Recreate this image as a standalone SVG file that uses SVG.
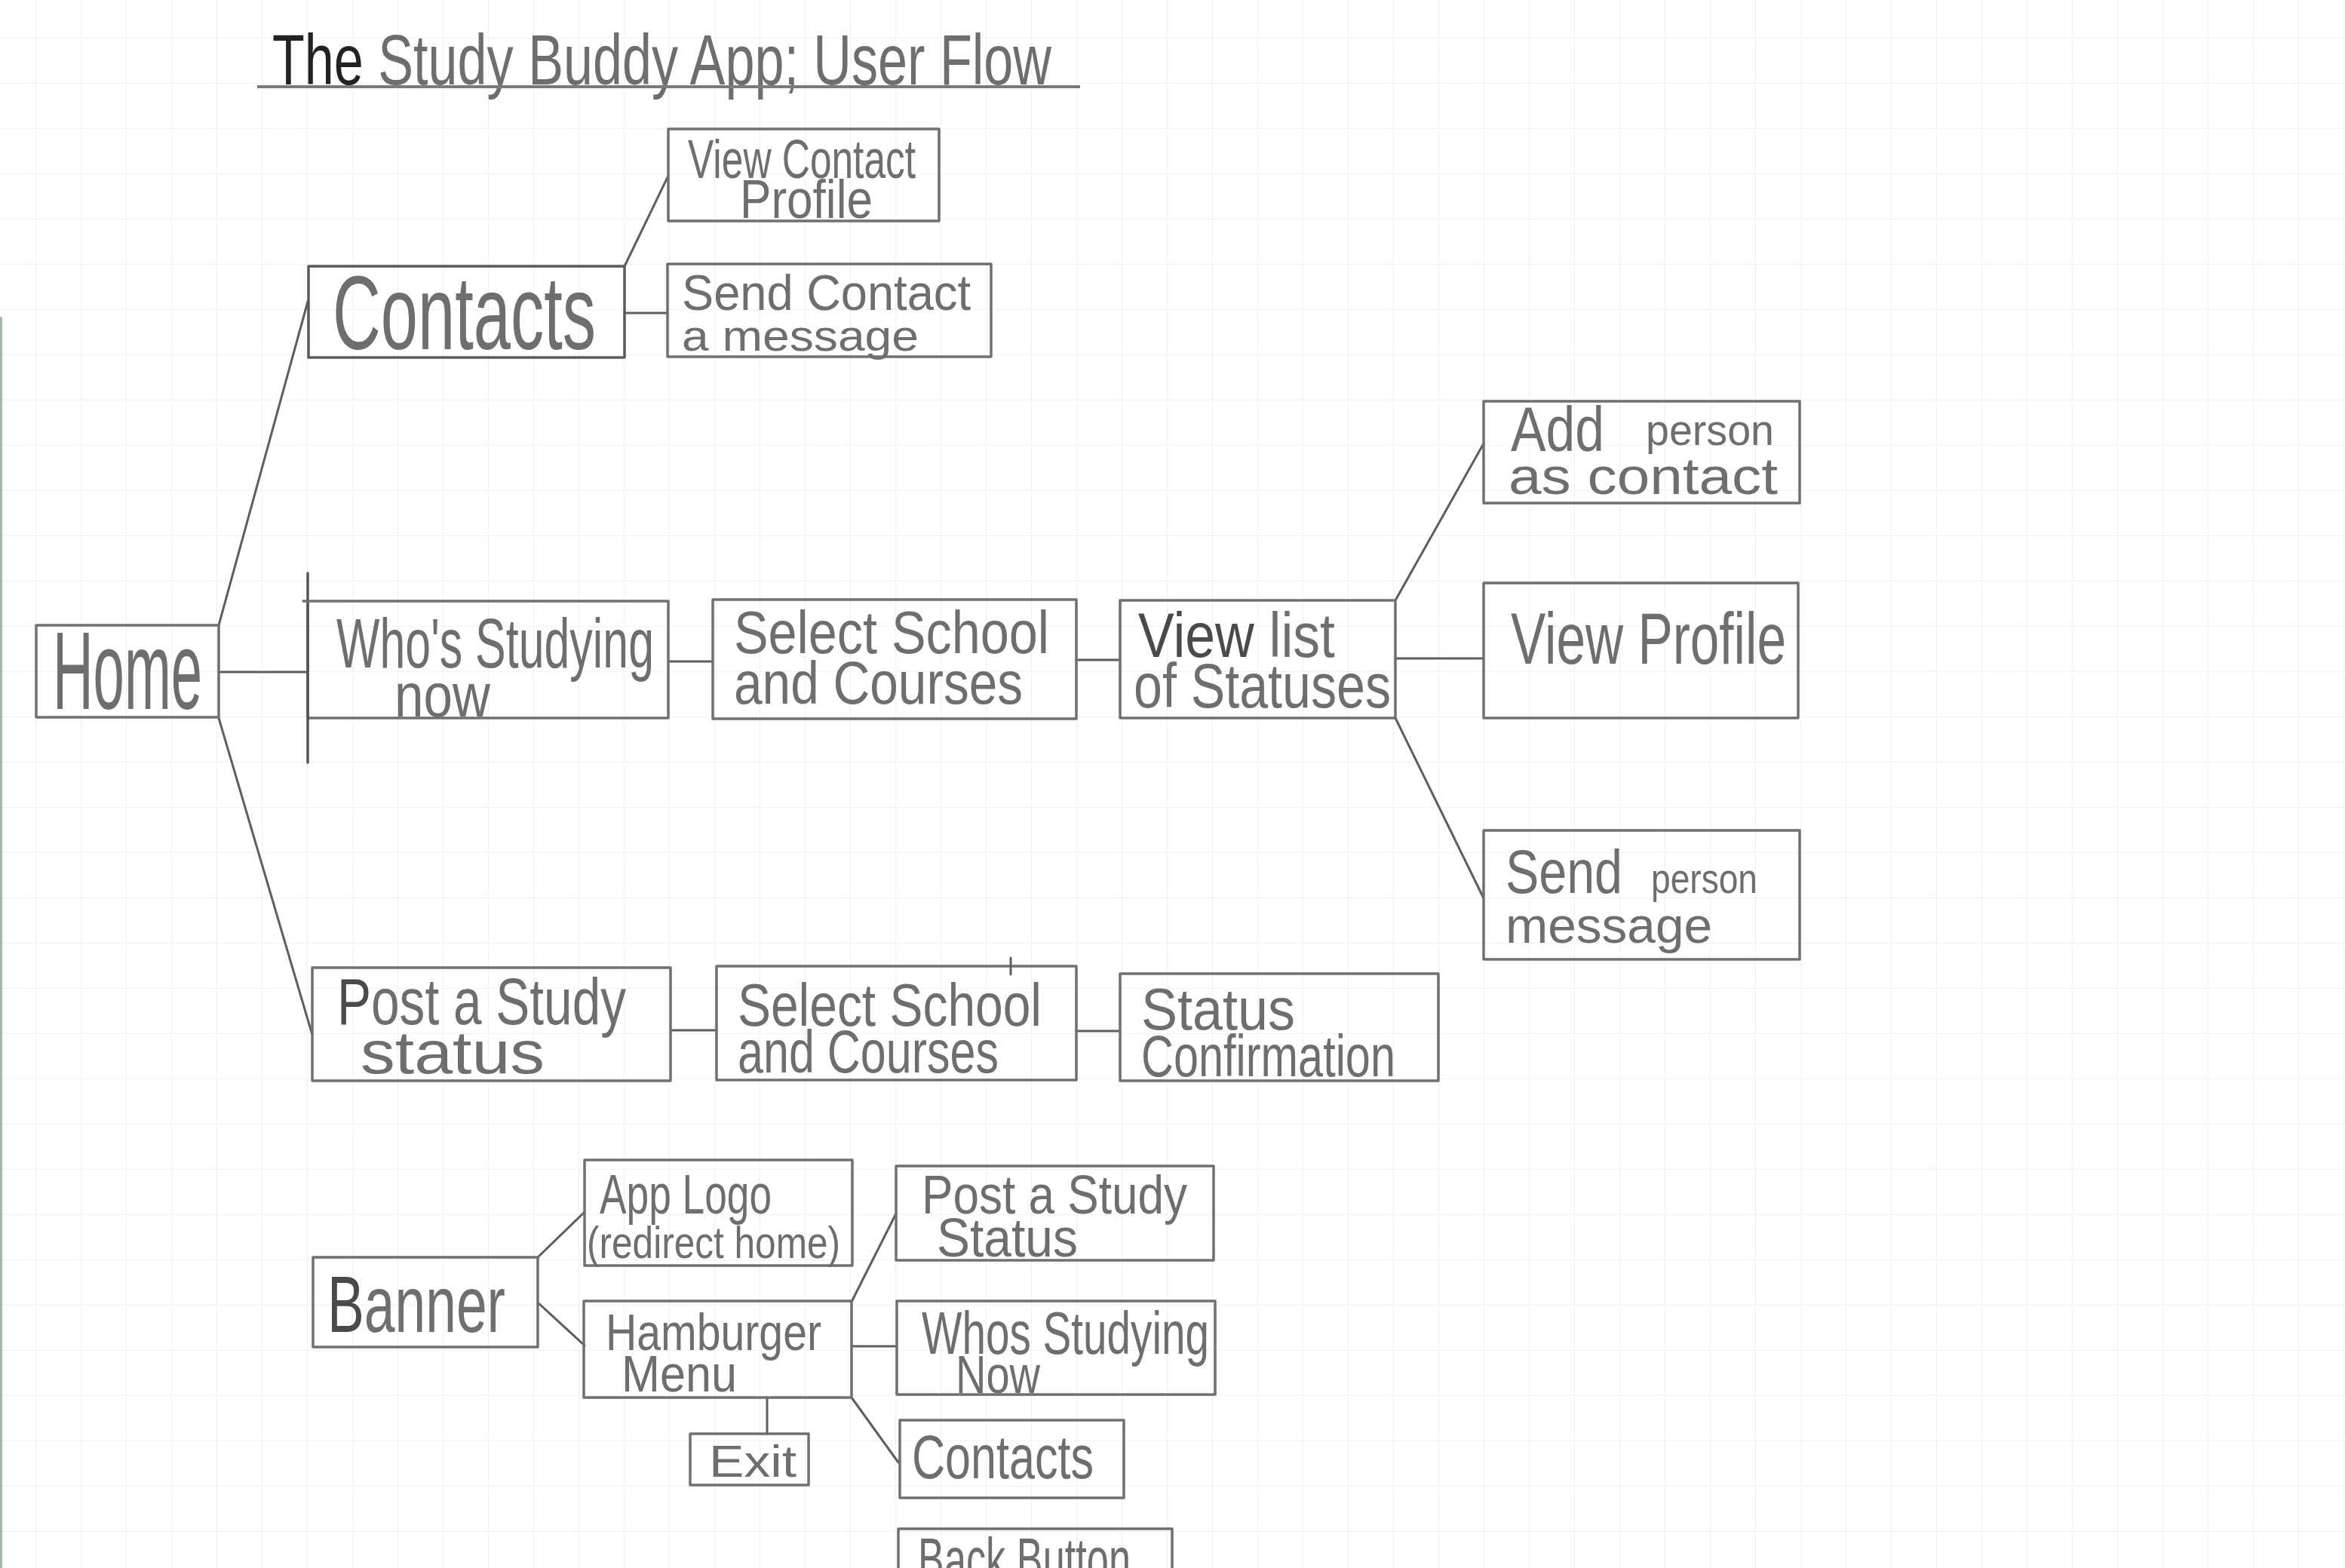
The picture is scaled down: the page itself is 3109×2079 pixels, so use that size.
<svg xmlns="http://www.w3.org/2000/svg" width="3109" height="2079" viewBox="0 0 3109 2079">
<defs>
<pattern id="grid" x="47" y="50" width="60" height="60" patternUnits="userSpaceOnUse">
<path d="M0 0 V60 M0 0 H60" fill="none" stroke="#f1f1f1" stroke-width="2"/>
</pattern>
<style>
.box{fill:none;stroke:#707070;stroke-width:3.5;stroke-linecap:round;stroke-linejoin:round}
.con{fill:none;stroke:#5e5e5e;stroke-width:3;stroke-linecap:round}
.t{font-family:"Liberation Sans Narrow","Liberation Sans",Arial,sans-serif;fill:#6e6e6e;font-weight:normal}
.dk{fill:#4a4a4a}
</style>
</defs>
<rect x="0" y="0" width="3109" height="2079" fill="#ffffff"/>
<rect x="0" y="0" width="3109" height="2079" fill="url(#grid)"/>
<line x1="1.5" y1="420" x2="1.5" y2="2079" stroke="#5d8f6c" stroke-width="3" opacity="0.6"/>

<g id="title">
<text class="t" x="361" y="112" font-size="95" textLength="1033" lengthAdjust="spacingAndGlyphs" fill="#555"><tspan fill="#222">The</tspan> Study Buddy App; User Flow</text>
<line x1="341" y1="115" x2="1432" y2="115" stroke="#7a7a7a" stroke-width="4"/>
</g>

<g id="connectors">
<line class="con" x1="290" y1="829" x2="408" y2="400"/>
<line class="con" x1="290" y1="891" x2="408" y2="891"/>
<line class="con" x1="290" y1="952" x2="414" y2="1372"/>
<line class="con" x1="828" y1="353" x2="886" y2="233"/>
<line class="con" x1="828" y1="415" x2="885" y2="415"/>
<line class="con" x1="886" y1="877" x2="945" y2="877"/>
<line class="con" x1="1427" y1="875" x2="1485" y2="875"/>
<line class="con" x1="1850" y1="796" x2="1967" y2="588"/>
<line class="con" x1="1850" y1="873" x2="1967" y2="873"/>
<line class="con" x1="1850" y1="952" x2="1967" y2="1191"/>
<line class="con" x1="889" y1="1366" x2="950" y2="1366"/>
<line class="con" x1="1427" y1="1367" x2="1485" y2="1367"/>
<line class="con" x1="713" y1="1667" x2="775" y2="1607"/>
<line class="con" x1="713" y1="1727" x2="775" y2="1784"/>
<line class="con" x1="1129" y1="1726" x2="1188" y2="1609"/>
<line class="con" x1="1129" y1="1785" x2="1189" y2="1785"/>
<line class="con" x1="1129" y1="1853" x2="1191" y2="1939"/>
<line class="con" x1="1017" y1="1853" x2="1017" y2="1901"/>
</g>

<g id="home">
<rect class="box" x="48" y="829" width="242" height="122"/>
<text class="t" x="70" y="940" font-size="146" textLength="198" lengthAdjust="spacingAndGlyphs">Home</text>
</g>

<g id="contacts">
<rect class="box" x="409" y="353" width="419" height="121" style="stroke:#5a5a5a"/>
<text class="t" x="441" y="463" font-size="140" textLength="349" lengthAdjust="spacingAndGlyphs">Contacts</text>
</g>

<g id="view-contact-profile">
<rect class="box" x="886" y="171" width="359" height="122"/>
<text class="t" x="912" y="236" font-size="72" textLength="302" lengthAdjust="spacingAndGlyphs" fill="#555">View Contact</text>
<text class="t" x="981" y="289" font-size="72" textLength="176" lengthAdjust="spacingAndGlyphs">Profile</text>
</g>

<g id="send-contact-message">
<rect class="box" x="885" y="350" width="429" height="123"/>
<text class="t" x="904" y="411" font-size="66" textLength="383" lengthAdjust="spacingAndGlyphs" fill="#555">Send Contact</text>
<text class="t" x="904" y="465" font-size="58" textLength="314" lengthAdjust="spacingAndGlyphs">a message</text>
</g>

<g id="whos-studying-now">
<rect class="box" x="408" y="797" width="478" height="155"/>
<line class="box" x1="408" y1="760" x2="408" y2="1011" style="stroke:#555"/>
<line class="box" x1="402" y1="797" x2="408" y2="797"/>
<text class="t" x="446" y="885" font-size="92" textLength="421" lengthAdjust="spacingAndGlyphs" fill="#555">Who's Studying</text>
<text class="t" x="523" y="950" font-size="82" textLength="127" lengthAdjust="spacingAndGlyphs">now</text>
</g>

<g id="select-school-1">
<rect class="box" x="945" y="795" width="482" height="158"/>
<text class="t" x="973" y="866" font-size="80" textLength="418" lengthAdjust="spacingAndGlyphs">Select School</text>
<text class="t" x="973" y="933" font-size="80" textLength="383" lengthAdjust="spacingAndGlyphs">and Courses</text>
</g>

<g id="view-list-statuses">
<rect class="box" x="1485" y="796" width="365" height="156"/>
<text class="t" x="1509" y="871" font-size="84" textLength="261" lengthAdjust="spacingAndGlyphs"><tspan class="dk">View</tspan> list</text>
<text class="t" x="1503" y="938" font-size="84" textLength="341" lengthAdjust="spacingAndGlyphs">of Statuses</text>
</g>

<g id="add-person-contact">
<rect class="box" x="1967" y="532" width="419" height="135"/>
<text class="t" x="2003" y="598" font-size="84" textLength="124" lengthAdjust="spacingAndGlyphs" fill="#555">Add</text>
<text class="t" x="2182" y="590" font-size="58" textLength="170" lengthAdjust="spacingAndGlyphs">person</text>
<text class="t" x="2000" y="655" font-size="68" textLength="357" lengthAdjust="spacingAndGlyphs">as contact</text>
</g>

<g id="view-profile">
<rect class="box" x="1967" y="773" width="417" height="179"/>
<text class="t" x="2003" y="880" font-size="96" textLength="365" lengthAdjust="spacingAndGlyphs">View Profile</text>
</g>

<g id="send-person-message">
<rect class="box" x="1967" y="1101" width="419" height="171"/>
<text class="t" x="1996" y="1184" font-size="82" textLength="155" lengthAdjust="spacingAndGlyphs">Send</text>
<text class="t" x="2189" y="1184" font-size="56" textLength="141" lengthAdjust="spacingAndGlyphs" fill="#555">person</text>
<text class="t" x="1996" y="1250" font-size="66" textLength="274" lengthAdjust="spacingAndGlyphs">message</text>
</g>

<g id="post-study-status">
<rect class="box" x="414" y="1283" width="475" height="150"/>
<text class="t" x="447" y="1358" font-size="88" textLength="383" lengthAdjust="spacingAndGlyphs"><tspan class="dk">P</tspan>ost a Study</text>
<text class="t" x="478" y="1423" font-size="80" textLength="244" lengthAdjust="spacingAndGlyphs">status</text>
</g>

<g id="select-school-2">
<rect class="box" x="950" y="1281" width="477" height="151"/>
<line class="con" x1="1340" y1="1270" x2="1340" y2="1292"/>
<text class="t" x="978" y="1360" font-size="80" textLength="403" lengthAdjust="spacingAndGlyphs">Select School</text>
<text class="t" x="978" y="1422" font-size="80" textLength="346" lengthAdjust="spacingAndGlyphs">and Courses</text>
</g>

<g id="status-confirmation">
<rect class="box" x="1485" y="1291" width="422" height="142"/>
<text class="t" x="1513" y="1365" font-size="78" textLength="204" lengthAdjust="spacingAndGlyphs">Status</text>
<text class="t" x="1513" y="1427" font-size="78" textLength="337" lengthAdjust="spacingAndGlyphs">Confirmation</text>
</g>

<g id="banner">
<rect class="box" x="415" y="1667" width="298" height="119"/>
<text class="t" x="434" y="1766" font-size="106" textLength="236" lengthAdjust="spacingAndGlyphs"><tspan class="dk">B</tspan>anner</text>
</g>

<g id="app-logo">
<rect class="box" x="775" y="1538" width="355" height="140"/>
<text class="t" x="795" y="1609" font-size="74" textLength="228" lengthAdjust="spacingAndGlyphs">App Logo</text>
<text class="t" x="778" y="1668" font-size="60" textLength="336" lengthAdjust="spacingAndGlyphs">(redirect home)</text>
</g>

<g id="hamburger-menu">
<rect class="box" x="774" y="1725" width="355" height="128"/>
<text class="t" x="803" y="1790" font-size="68" textLength="286" lengthAdjust="spacingAndGlyphs">Hamburger</text>
<text class="t" x="824" y="1845" font-size="68" textLength="153" lengthAdjust="spacingAndGlyphs">Menu</text>
</g>

<g id="exit">
<rect class="box" x="915" y="1901" width="157" height="68"/>
<text class="t" x="940" y="1958" font-size="60" textLength="116" lengthAdjust="spacingAndGlyphs">Exit</text>
</g>

<g id="menu-post-study-status">
<rect class="box" x="1188" y="1546" width="421" height="125"/>
<text class="t" x="1222" y="1609" font-size="72" textLength="352" lengthAdjust="spacingAndGlyphs">Post a Study</text>
<text class="t" x="1242" y="1666" font-size="72" textLength="187" lengthAdjust="spacingAndGlyphs">Status</text>
</g>

<g id="menu-whos-studying-now">
<rect class="box" x="1189" y="1725" width="422" height="124"/>
<text class="t" x="1222" y="1795" font-size="80" textLength="381" lengthAdjust="spacingAndGlyphs">Whos Studying</text>
<text class="t" x="1267" y="1847" font-size="70" textLength="112" lengthAdjust="spacingAndGlyphs">Now</text>
</g>

<g id="menu-contacts">
<rect class="box" x="1193" y="1883" width="297" height="103"/>
<text class="t" x="1209" y="1960" font-size="81" textLength="241" lengthAdjust="spacingAndGlyphs">Contacts</text>
</g>

<g id="back-button">
<rect class="box" x="1191" y="2027" width="363" height="80"/>
<text class="t" x="1217" y="2095" font-size="80" textLength="282" lengthAdjust="spacingAndGlyphs">Back Button</text>
</g>
</svg>
